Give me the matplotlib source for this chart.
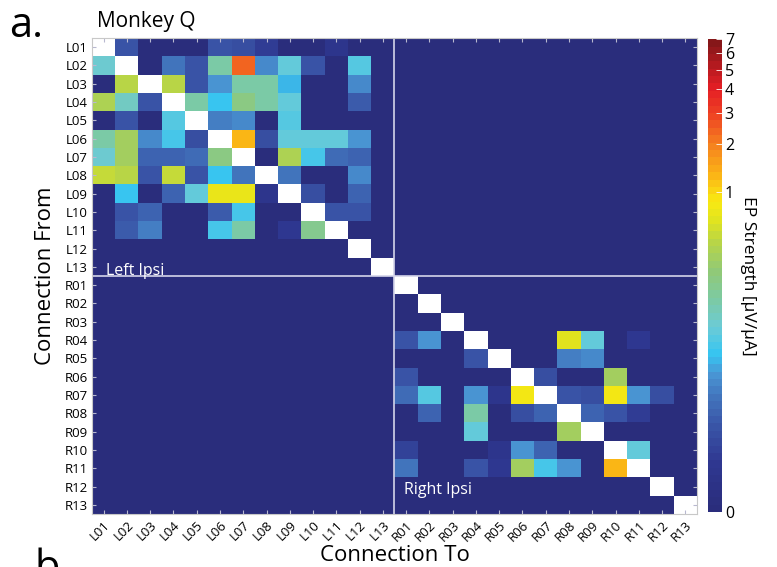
import numpy as np
import matplotlib
matplotlib.use("Agg")
import matplotlib.pyplot as plt
from matplotlib.colors import LinearSegmentedColormap, PowerNorm

plt.rcParams['font.family'] = ['Open Sans', 'DejaVu Sans']

# Channel names (13 left-hemisphere, 13 right-hemisphere sites)
left_sites = [f"L{i:02d}" for i in range(1, 14)]
right_sites = [f"R{i:02d}" for i in range(1, 14)]
sites = left_sites + right_sites

nan = np.nan
# EP strength [uV/uA], rows = stimulated site, columns = recorded site
left_ipsi = [
    [nan, 0.0013, 0, 0, 0, 0.0013, 0.001, 0.0002, 0, 0, 0.00005, 0, 0],
    [0.07, nan, 0, 0.006, 0.0015, 0.13, 2.3, 0.01, 0.06, 0.0013, 0, 0.045, 0],
    [0, 0.45, nan, 0.45, 0.0015, 0.015, 0.12, 0.12, 0.025, 0, 0, 0.01, 0],
    [0.35, 0.09, 0.0013, nan, 0.13, 0.03, 0.2, 0.13, 0.06, 0, 0, 0.002, 0],
    [0, 0.0012, 0, 0.045, nan, 0.008, 0.012, 0, 0.05, 0, 0, 0, 0],
    [0.13, 0.33, 0.012, 0.035, 0.0008, nan, 1.3, 0.001, 0.06, 0.06, 0.055, 0.016, 0],
    [0.07, 0.33, 0.003, 0.003, 0.004, 0.2, nan, 0, 0.35, 0.035, 0.004, 0.003, 0],
    [0.5, 0.45, 0.0013, 0.5, 0.0013, 0.03, 0.006, nan, 0.006, 0, 0, 0.01, 0],
    [0, 0.03, 0, 0.0035, 0.06, 0.75, 0.75, 0.00005, nan, 0.0007, 0, 0.003, 0],
    [0, 0.0012, 0.003, 0, 0, 0.002, 0.035, 0, 0, nan, 0.0013, 0.0013, 0],
    [0, 0.0018, 0.009, 0, 0, 0.04, 0.13, 0, 0.0001, 0.17, nan, 0, 0],
    [0, 0, 0, 0, 0, 0, 0, 0, 0, 0, 0, nan, 0],
    [0, 0, 0, 0, 0, 0, 0, 0, 0, 0, 0, 0, nan],
]
right_ipsi = [
    [nan, 0, 0, 0, 0, 0, 0, 0, 0, 0, 0, 0, 0],
    [0, nan, 0, 0, 0, 0, 0, 0, 0, 0, 0, 0, 0],
    [0, 0, nan, 0, 0, 0, 0, 0, 0, 0, 0, 0, 0],
    [0.0013, 0.016, 0, nan, 0, 0, 0, 0.6, 0.06, 0, 0.0001, 0, 0],
    [0, 0, 0, 0.0013, nan, 0, 0, 0.009, 0.012, 0, 0, 0, 0],
    [0.0012, 0, 0, 0, 0, nan, 0.0007, 0, 0, 0.3, 0, 0, 0],
    [0.004, 0.05, 0, 0.015, 0.00005, 0.8, nan, 0.0013, 0.001, 0.8, 0.016, 0.001, 0],
    [0, 0.003, 0, 0.13, 0, 0.0008, 0.003, nan, 0.003, 0.0013, 0.0002, 0, 0],
    [0, 0, 0, 0.055, 0, 0, 0, 0.33, nan, 0, 0, 0, 0],
    [0.0003, 0, 0, 0, 0.00003, 0.016, 0.003, 0, 0, nan, 0.055, 0, 0],
    [0.006, 0, 0, 0.0013, 0.0001, 0.32, 0.035, 0.015, 0, 1.3, nan, 0, 0],
    [0, 0, 0, 0, 0, 0, 0, 0, 0, 0, 0, nan, 0],
    [0, 0, 0, 0, 0, 0, 0, 0, 0, 0, 0, 0, nan],
]
cbar_ticks = [0, 1, 2, 3, 4, 5, 6, 7]

n = len(left_sites)
cross = np.zeros((n, n))
ep = np.block([[np.array(left_ipsi), cross], [cross, np.array(right_ipsi)]])
ep = np.ma.masked_invalid(ep)

cmap = LinearSegmentedColormap.from_list("ep", [
    (0.00, "#2a2d7c"), (0.10, "#2f3891"), (0.18, "#3a56a8"),
    (0.24, "#4275bd"), (0.29, "#4a97d5"), (0.33, "#35c5f2"),
    (0.39, "#6ccbd6"), (0.45, "#7dcaa2"), (0.51, "#91c977"),
    (0.57, "#b7d548"), (0.62, "#e2e41e"), (0.66, "#f9e912"),
    (0.72, "#fbb116"), (0.78, "#f5821f"), (0.84, "#ef4723"),
    (0.90, "#e51e25"), (1.00, "#861719"),
], N=64)
cmap.set_bad("white")
norm = PowerNorm(gamma=0.2, vmin=0, vmax=7)

fig = plt.figure(figsize=(7.77, 5.67), dpi=100)
ax = fig.add_axes([0.1184, 0.0935, 0.7786, 0.8395])
im = ax.imshow(ep, cmap=cmap, norm=norm, aspect="auto", interpolation="nearest")

ax.axvline(n - 0.5, color="#d4d4ea", lw=1.2)
ax.axhline(n - 0.5, color="#d4d4ea", lw=1.2)

idx = np.arange(len(sites))
ax.set_xticks(idx)
ax.set_yticks(idx)
ax.set_xticklabels(sites, rotation=45, ha="right", rotation_mode="anchor", fontsize=9.5)
ax.set_yticklabels(sites, fontsize=9.5)
ax.tick_params(direction="in", length=3, color="#b8b8d0", width=0.8,
               top=True, right=True, pad=3)
for s in ax.spines.values():
    s.set_color("#c8c8c8")
    s.set_linewidth(0.8)

ax.set_xlabel("Connection To", fontsize=16, labelpad=1)
ax.set_ylabel("Connection From", fontsize=16, labelpad=6)

ax.text(0.1, 12.25, "Left Ipsi", color="white", fontsize=11.5, va="center", ha="left")
ax.text(12.9, 24.2, "Right Ipsi", color="white", fontsize=11.5, va="center", ha="left")

cax = fig.add_axes([0.9112, 0.097, 0.018, 0.834])
cb = fig.colorbar(im, cax=cax, ticks=cbar_ticks)
cb.outline.set_visible(False)
cb.ax.tick_params(direction="in", length=4, color="white", width=0.6, labelsize=11.5, pad=2)
cb.set_label("EP Strength [\u03bcV/\u03bcA]", rotation=270, fontsize=12.5, labelpad=16)

fig.text(0.125, 0.962, "Monkey Q", fontsize=15, ha="left", va="center")
fig.text(0.012, 0.955, "a.", fontsize=30, ha="left", va="center")
# next panel's label, sitting at the lower edge
fig.text(0.045, 0.034, "b", fontsize=30, ha="left", va="top")

fig.savefig("out.png", dpi=100)
